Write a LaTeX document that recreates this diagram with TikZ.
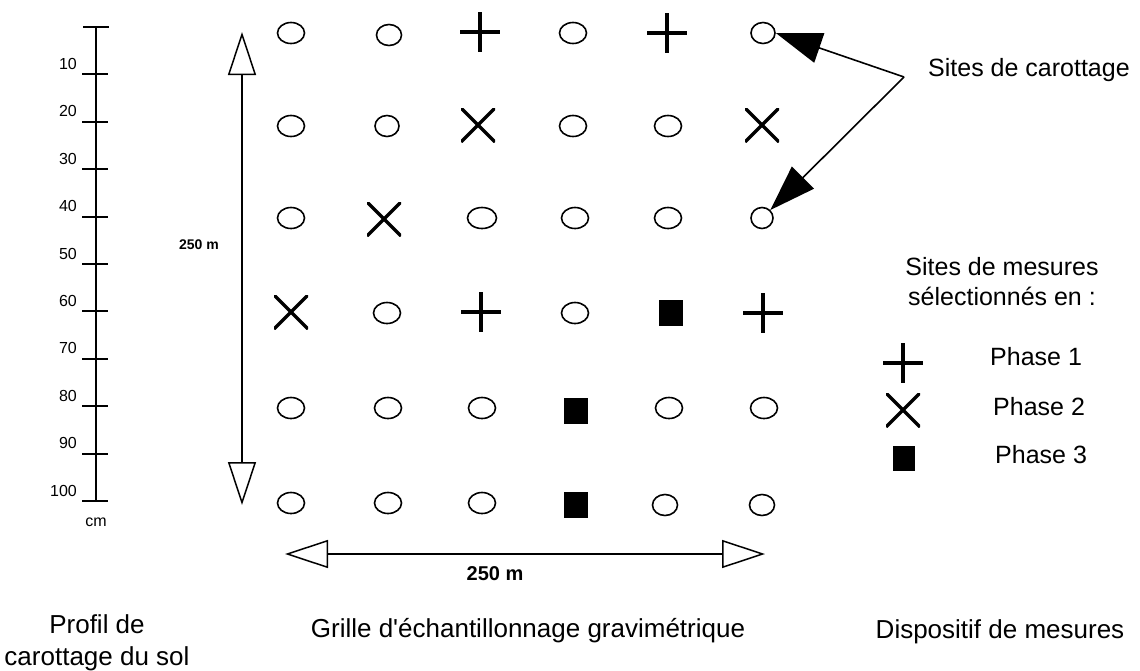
\documentclass[tikz,border=0pt]{standalone}
\usepackage{fontspec}
\setmainfont{Liberation Sans}
\usetikzlibrary{arrows.meta,shapes.geometric}
\tikzset{
  circ/.style={ellipse,draw,line width=1.6pt,minimum width=27pt,minimum height=21pt,inner sep=0pt},
  pmark/.style={rectangle,inner sep=0pt,minimum size=40pt,path picture={
      \draw[line width=3.8pt] (path picture bounding box.north) -- (path picture bounding box.south);
      \draw[line width=3.8pt] (path picture bounding box.west) -- (path picture bounding box.east);}},
  xmark/.style={rectangle,inner sep=0pt,minimum size=34pt,path picture={
      \draw[line width=3.3pt] (path picture bounding box.north west) -- (path picture bounding box.south east);
      \draw[line width=3.3pt] (path picture bounding box.south west) -- (path picture bounding box.north east);}},
  smark/.style={rectangle,fill=black,inner sep=0pt,minimum width=24pt,minimum height=26pt},
  dimarrow/.style={line width=1.5pt,{Triangle[open,length=43pt,width=28pt]}-{Triangle[open,length=43pt,width=28pt]}},
  ptr/.style={line width=1.6pt,-{Triangle[length=46pt,width=31pt]}},
  lbl/.style={font=\fontsize{25}{30}\selectfont,inner sep=0pt},
  captxt/.style={font=\fontsize{26}{32}\selectfont,inner sep=0pt},
  depth/.style={font=\fontsize{16}{18}\selectfont,inner sep=0pt,anchor=base east},
  tick/.style={line width=2pt}
}
\begin{document}
\begin{tikzpicture}[x=1pt,y=-1pt]
\useasboundingbox (0,0) rectangle (1140,670);
% depth profile
\coordinate (dtop) at (96,27);
\coordinate (dbot) at (96,501);
\draw[tick] (dtop) -- (dbot);
\draw[tick] (83,27) -- (109,27);
\foreach \i/\t in {1/10,2/20,3/30,4/40,5/50,6/60,7/70,8/80,9/90,10/100}{
  \pgfmathsetmacro{\yy}{27+47.4*\i}
  \draw[tick] (82,\yy) -- (108,\yy);
  \node[depth] (d\i) at (77,\yy-5) {\t};
}
\node[font=\fontsize{16}{18}\selectfont] (cm) at (96,522) {cm};
% vertical dimension
\coordinate (vt) at (242,32);
\coordinate (vb) at (242,505);
\draw[dimarrow] (vt) -- (vb);
\node[font=\bfseries\fontsize{14}{16}\selectfont] (vlab) at (199,245) {250 m};
% horizontal dimension
\coordinate (hl) at (285,554);
\coordinate (hr) at (765,554);
\draw[dimarrow] (hl) -- (hr);
\node[font=\bfseries\fontsize{20}{22}\selectfont] (hlab) at (495,574) {250 m};
% grid
\node[circ] (g11) at (291,33) {};
\node[circ,minimum width=25pt] (g12) at (389,35) {};
\node[pmark] (g13) at (480,32) {};
\node[circ] (g14) at (573,33) {};
\node[pmark] (g15) at (667,33) {};
\node[circ,minimum width=24pt] (g16) at (763,33) {};
\node[circ] (g21) at (291,126) {};
\node[circ,minimum width=24pt] (g22) at (387,126) {};
\node[xmark] (g23) at (478,125) {};
\node[circ] (g24) at (573,126) {};
\node[circ] (g25) at (668,126) {};
\node[xmark] (g26) at (762,125) {};
\node[circ] (g31) at (291,218) {};
\node[xmark] (g32) at (384,219) {};
\node[circ,minimum width=29pt] (g33) at (482,218) {};
\node[circ] (g34) at (575,218) {};
\node[circ] (g35) at (668,218) {};
\node[circ,minimum width=22pt] (g36) at (762,218) {};
\node[xmark] (g41) at (291,312) {};
\node[circ] (g42) at (387,313) {};
\node[pmark] (g43) at (481,312) {};
\node[circ] (g44) at (575,313) {};
\node[smark] (g45) at (671,313) {};
\node[pmark] (g46) at (763,313) {};
\node[circ] (g51) at (291,408) {};
\node[circ] (g52) at (388,408) {};
\node[circ] (g53) at (482,408) {};
\node[smark] (g54) at (576,411) {};
\node[circ] (g55) at (669,408) {};
\node[circ] (g56) at (764,408) {};
\node[circ] (g61) at (291,503) {};
\node[circ] (g62) at (388,503) {};
\node[circ] (g63) at (482,503) {};
\node[smark] (g64) at (576,505) {};
\node[circ,minimum width=25pt] (g65) at (665,505) {};
\node[circ,minimum width=25pt] (g66) at (762,505) {};
% carottage pointer
\node[lbl,anchor=west] (sc) at (928,70) {Sites de carottage};
\coordinate (conv) at (904,77);
\draw[ptr] (conv) -- (g16.east);
\draw[ptr] (conv) -- (g36.north east);
% legend
\node[lbl,align=center] (lt) at (1002,282) {Sites de mesures\\sélectionnés en :};
\node[pmark] (l1) at (903,363) {};
\node[xmark] (l2) at (903,410) {};
\node[smark,minimum width=22pt,minimum height=25pt] (l3) at (904,458) {};
\node[lbl,anchor=west] (p1) at (990,357) {Phase 1};
\node[lbl,anchor=west] (p2) at (993,407) {Phase 2};
\node[lbl,anchor=west] (p3) at (995,455) {Phase 3};
% captions
\node[captxt,align=center] (c1) at (97,643) {Profil de\\carottage du sol};
\node[captxt] (c2) at (528,631) {Grille d\textquotesingle échantillonnage gravimétrique};
\node[captxt] (c3) at (1000,632) {Dispositif de mesures};
\end{tikzpicture}
\end{document}
